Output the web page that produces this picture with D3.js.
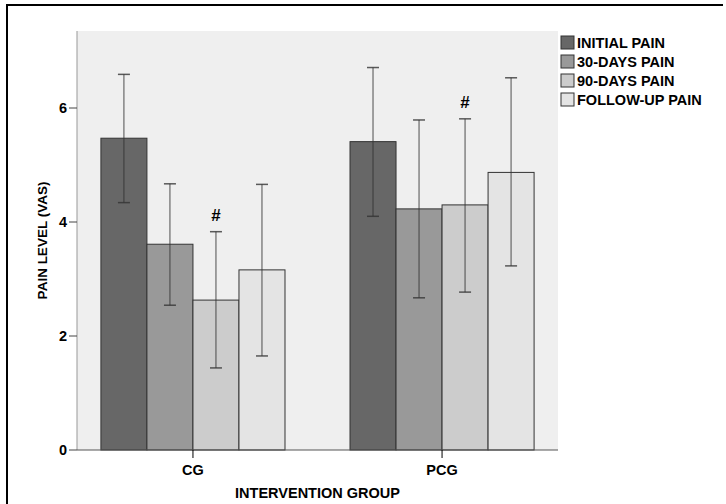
<!DOCTYPE html>
<html>
<head>
<meta charset="utf-8">
<script src="https://cdn.jsdelivr.net/npm/d3@7"></script>
<style>
  body { margin: 0; background: #fff; }
  text { font-family: "Liberation Sans", Arial, sans-serif; font-weight: bold; fill: #000; }
</style>
</head>
<body>
<svg id="chart" width="726" height="504"></svg>
<script>
const groups = ["CG", "PCG"];
const series = ["INITIAL PAIN", "30-DAYS PAIN", "90-DAYS PAIN", "FOLLOW-UP PAIN"];
const colors = ["#676767", "#999999", "#cccccc", "#e4e4e4"];
// means, upper and lower error bar ends, per group in series order
const means = [[5.47, 3.61, 2.63, 3.16], [5.41, 4.23, 4.30, 4.87]];
const upper = [[6.59, 4.67, 3.83, 4.66], [6.71, 5.79, 5.81, 6.53]];
const lower = [[4.34, 2.54, 1.44, 1.65], [4.10, 2.67, 2.77, 3.23]];
const marks = [["CG", "90-DAYS PAIN"], ["PCG", "90-DAYS PAIN"]];
const yTicks = [0, 2, 4, 6];

const svg = d3.select("#chart");
const plot = { left: 77, right: 558, top: 31, bottom: 450 };

// frame: only top and left edges show
svg.append("path").attr("d", "M7,520V5H723")
    .attr("fill", "none").attr("stroke", "#000").attr("stroke-width", 2);

svg.append("rect").attr("x", plot.left).attr("y", plot.top)
    .attr("width", plot.right - plot.left).attr("height", plot.bottom - plot.top)
    .attr("fill", "#efefef");

const y = d3.scaleLinear().domain([0, 6]).range([plot.bottom, plot.bottom - 342]);
const x0 = d3.scaleBand().domain(groups).range([plot.left, plot.right])
    .paddingInner(0.261).paddingOuter(0.096);
const x1 = d3.scaleBand().domain(series).range([0, x0.bandwidth()]);

const rows = [];
groups.forEach((g, gi) => series.forEach((s, si) => rows.push({
    g, s, si, mean: means[gi][si], hi: upper[gi][si], lo: lower[gi][si]
})));

const bars = svg.append("g").selectAll("g").data(rows).join("g")
    .attr("transform", d => `translate(${x0(d.g) + x1(d.s)},0)`);

bars.append("rect")
    .attr("x", 0).attr("width", x1.bandwidth())
    .attr("y", d => y(d.mean)).attr("height", d => y(0) - y(d.mean))
    .attr("fill", d => colors[d.si]).attr("stroke", "#333").attr("stroke-width", 1);

const cx = x1.bandwidth() / 2;
bars.append("line").attr("x1", cx).attr("x2", cx)
    .attr("y1", d => y(d.hi)).attr("y2", d => y(d.lo))
    .attr("stroke", "#333").attr("stroke-opacity", 0.85);
bars.append("line").attr("x1", cx - 6).attr("x2", cx + 6)
    .attr("y1", d => y(d.hi)).attr("y2", d => y(d.hi))
    .attr("stroke", "#333").attr("stroke-width", 1.5).attr("stroke-opacity", 0.8);
bars.append("line").attr("x1", cx - 6).attr("x2", cx + 6)
    .attr("y1", d => y(d.lo)).attr("y2", d => y(d.lo))
    .attr("stroke", "#333").attr("stroke-width", 1.5).attr("stroke-opacity", 0.8);

// significance marks
svg.append("g").selectAll("text").data(marks).join("text")
    .attr("x", d => x0(d[0]) + x1(d[1]) + cx)
    .attr("y", d => {
        const gi = groups.indexOf(d[0]), si = series.indexOf(d[1]);
        return y(upper[gi][si]) - 11;
    })
    .attr("text-anchor", "middle").attr("font-size", 17).text("#");

// y axis
const yAxis = svg.append("g").attr("transform", `translate(${plot.left},0)`);
yAxis.append("line").attr("y1", plot.top).attr("y2", plot.bottom).attr("stroke", "#999");
yAxis.selectAll(".tk").data(yTicks).join("line").attr("class", "tk")
    .attr("x1", -8).attr("x2", 0).attr("y1", d => y(d)).attr("y2", d => y(d))
    .attr("stroke", "#444");
yAxis.selectAll("text").data(yTicks).join("text")
    .attr("x", -10).attr("y", d => y(d) + 5).attr("text-anchor", "end")
    .attr("font-size", 14.5).text(d => d);

// x axis
const xAxis = svg.append("g");
xAxis.append("line").attr("x1", plot.left).attr("x2", plot.right)
    .attr("y1", plot.bottom).attr("y2", plot.bottom).attr("stroke", "#555");
xAxis.selectAll(".tk").data(groups).join("line").attr("class", "tk")
    .attr("x1", d => x0(d) + x0.bandwidth() / 2).attr("x2", d => x0(d) + x0.bandwidth() / 2)
    .attr("y1", plot.bottom).attr("y2", plot.bottom + 8).attr("stroke", "#000");
xAxis.selectAll("text").data(groups).join("text")
    .attr("x", d => x0(d) + x0.bandwidth() / 2).attr("y", plot.bottom + 25)
    .attr("text-anchor", "middle").attr("font-size", 14.5).text(d => d);

svg.append("text").attr("x", (plot.left + plot.right) / 2).attr("y", 498)
    .attr("text-anchor", "middle").attr("font-size", 14.5).text("INTERVENTION GROUP");
svg.append("text").attr("transform", `translate(47,${(plot.top + plot.bottom) / 2}) rotate(-90)`)
    .attr("text-anchor", "middle").attr("font-size", 13.5).text("PAIN LEVEL (VAS)");

// legend
const legend = svg.append("g").attr("transform", "translate(561,36)");
const li = legend.selectAll("g").data(series).join("g")
    .attr("transform", (d, i) => `translate(0,${i * 19})`);
li.append("rect").attr("width", 13).attr("height", 13)
    .attr("fill", (d, i) => colors[i]).attr("stroke", "#333");
li.append("text").attr("x", 16).attr("y", 12).attr("font-size", 14.5).text(d => d);
</script>
</body>
</html>
